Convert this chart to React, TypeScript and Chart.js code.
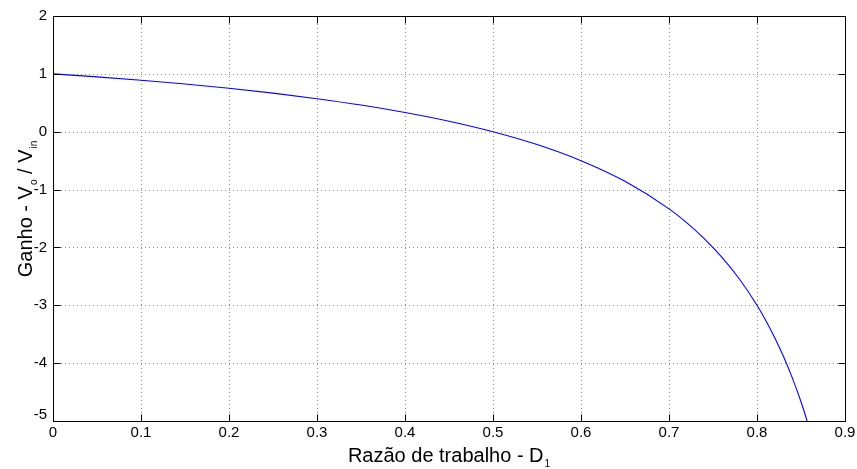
import React, { useEffect, useRef } from "react";
import { Chart, registerables } from "chart.js";

Chart.register(...registerables);

const dutyRatio = [0, 0.05, 0.1, 0.15, 0.2, 0.25, 0.3, 0.35, 0.4, 0.45, 0.5, 0.55, 0.6, 0.65, 0.7, 0.72, 0.74, 0.76, 0.78, 0.8, 0.81, 0.82, 0.83, 0.84, 0.85, 0.857];
const gain = [1, 0.947, 0.889, 0.824, 0.75, 0.667, 0.571, 0.462, 0.333, 0.182, 0, -0.222, -0.5, -0.857, -1.333, -1.571, -1.846, -2.167, -2.545, -3.0, -3.263, -3.556, -3.882, -4.25, -4.667, -5.0];
const xTicks = [0, 0.1, 0.2, 0.3, 0.4, 0.5, 0.6, 0.7, 0.8, 0.9];
const yTicks = [2, 1, 0, -1, -2, -3, -4, -5];
const xTitle = { main: "Razão de trabalho - D", sub: "1" };
const yTitleParts = [
  { t: "Ganho - V", sub: false },
  { t: "o", sub: true },
  { t: " / V", sub: false },
  { t: "in", sub: true },
];

const FONT = "'Liberation Sans', Arial, Helvetica, sans-serif";

const framePlugin = {
  id: "matlabFrame",
  beforeDatasetsDraw(chart: any) {
    const { ctx, chartArea: a, scales } = chart;
    ctx.save();
    ctx.strokeStyle = "#8a8a8a";
    ctx.lineWidth = 1;
    ctx.setLineDash([1, 3]);
    xTicks.forEach((v) => {
      const x = Math.round(scales.x.getPixelForValue(v)) + 0.5;
      if (x <= a.left + 1 || x >= a.right - 1) return;
      ctx.beginPath();
      ctx.moveTo(x, a.top);
      ctx.lineTo(x, a.bottom);
      ctx.stroke();
    });
    yTicks.forEach((v) => {
      const y = Math.round(scales.y.getPixelForValue(v)) + 0.5;
      if (y <= a.top + 1 || y >= a.bottom - 1) return;
      ctx.beginPath();
      ctx.moveTo(a.left, y);
      ctx.lineTo(a.right, y);
      ctx.stroke();
    });
    ctx.restore();
  },
  afterDraw(chart: any) {
    const { ctx, chartArea: a, scales } = chart;
    ctx.save();
    ctx.strokeStyle = "#000";
    ctx.lineWidth = 1;
    ctx.setLineDash([]);
    const L = Math.round(a.left) + 0.5;
    const R = Math.round(a.right) + 0.5;
    const T = Math.round(a.top) + 0.5;
    const B = Math.round(a.bottom) + 0.5;
    ctx.strokeRect(L, T, R - L, B - T);
    const tl = 7;
    ctx.beginPath();
    xTicks.forEach((v) => {
      const x = Math.round(scales.x.getPixelForValue(v)) + 0.5;
      ctx.moveTo(x, B);
      ctx.lineTo(x, B - tl);
      ctx.moveTo(x, T);
      ctx.lineTo(x, T + tl);
    });
    yTicks.forEach((v) => {
      const y = Math.round(scales.y.getPixelForValue(v)) + 0.5;
      ctx.moveTo(L, y);
      ctx.lineTo(L + tl, y);
      ctx.moveTo(R, y);
      ctx.lineTo(R - tl, y);
    });
    ctx.stroke();

    // tick labels
    ctx.fillStyle = "#000";
    ctx.font = `15px ${FONT}`;
    ctx.textAlign = "center";
    ctx.textBaseline = "top";
    xTicks.forEach((v) => {
      const x = scales.x.getPixelForValue(v);
      ctx.fillText(v === 0 ? "0" : v.toFixed(1), x, a.bottom + 4);
    });
    ctx.textAlign = "right";
    ctx.textBaseline = "middle";
    yTicks.forEach((v) => {
      const y = scales.y.getPixelForValue(v);
      const yy = v === -5 ? y - 6 : y;
      ctx.fillText(String(v), a.left - 6, yy);
    });

    // x title
    const big = `20px ${FONT}`;
    const small = `10px ${FONT}`;
    ctx.textAlign = "left";
    ctx.textBaseline = "alphabetic";
    ctx.font = big;
    const wMain = ctx.measureText(xTitle.main).width;
    ctx.font = small;
    const wSub = ctx.measureText(xTitle.sub).width;
    const cx = (a.left + a.right) / 2;
    const sx = cx - (wMain + wSub + 1) / 2;
    const by = 462;
    ctx.font = big;
    ctx.fillText(xTitle.main, sx, by);
    ctx.font = small;
    ctx.fillText(xTitle.sub, sx + wMain + 1, by + 5);

    // y title
    let total = 0;
    const widths = yTitleParts.map((p) => {
      ctx.font = p.sub ? small : big;
      const w = ctx.measureText(p.t).width + (p.sub ? 1 : 0);
      total += w;
      return w;
    });
    ctx.save();
    ctx.translate(32, 209);
    ctx.rotate(-Math.PI / 2);
    let px = -total / 2;
    yTitleParts.forEach((p, i) => {
      ctx.font = p.sub ? small : big;
      ctx.fillText(p.t, px + (p.sub ? 1 : 0), p.sub ? 5 : 0);
      px += widths[i];
    });
    ctx.restore();
    ctx.restore();
  },
};

export default function App() {
  const ref = useRef<HTMLCanvasElement | null>(null);
  useEffect(() => {
    document.body.style.margin = "0";
    const canvas = ref.current!;
    const chart = new Chart(canvas, {
      type: "line",
      data: {
        datasets: [
          {
            data: dutyRatio.map((d, i) => ({ x: d, y: gain[i] })),
            borderColor: "#0000ff",
            borderWidth: 1.1,
            pointRadius: 0,
            fill: false,
            cubicInterpolationMode: "monotone",
          },
        ],
      },
      options: {
        animation: false,
        responsive: false,
        devicePixelRatio: 1,
        layout: { padding: { left: 0, top: 16, right: 12, bottom: 0 } },
        plugins: { legend: { display: false }, tooltip: { enabled: false } },
        scales: {
          x: {
            type: "linear",
            min: 0,
            max: 0.9,
            grid: { display: false },
            border: { display: false },
            ticks: { display: false },
            afterFit: (s: any) => {
              s.height = 48;
            },
          },
          y: {
            type: "linear",
            min: -5,
            max: 2,
            grid: { display: false },
            border: { display: false },
            ticks: { display: false },
            afterFit: (s: any) => {
              s.width = 53;
            },
          },
        },
      },
      plugins: [framePlugin],
    } as any);
    return () => chart.destroy();
  }, []);
  return (
    <div style={{ position: "absolute", left: 0, top: 0, width: 857, height: 469, background: "#fff" }}>
      <canvas ref={ref} width={857} height={469} style={{ width: 857, height: 469 }} />
    </div>
  );
}
